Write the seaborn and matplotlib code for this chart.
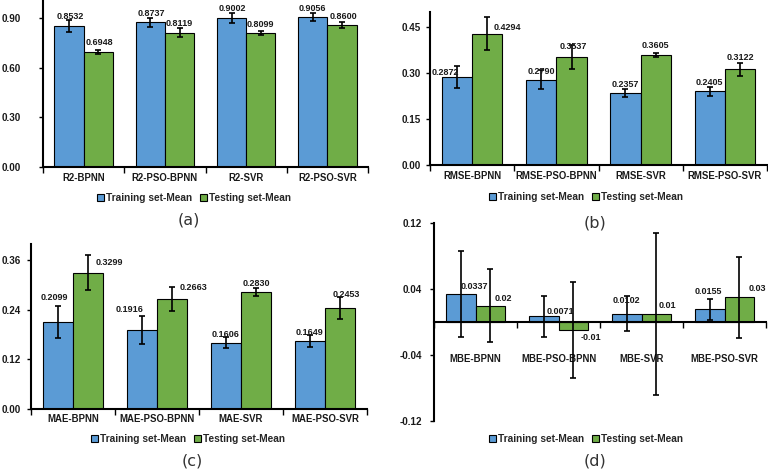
import numpy as np
import pandas as pd
import seaborn as sns
import matplotlib.pyplot as plt
from matplotlib.patches import Patch
from matplotlib.ticker import FormatStrFormatter

# values
sets = ["Training set-Mean", "Testing set-Mean"]
methods = ["BPNN", "PSO-BPNN", "SVR", "PSO-SVR"]

r2_train = [0.8532, 0.8737, 0.9002, 0.9056]
r2_test = [0.6948, 0.8119, 0.8099, 0.8600]
r2_train_err = [0.037, 0.027, 0.030, 0.022]
r2_test_err = [0.012, 0.028, 0.012, 0.018]

rmse_train = [0.2872, 0.2790, 0.2357, 0.2405]
rmse_test = [0.4294, 0.3537, 0.3605, 0.3122]
rmse_train_err = [0.037, 0.031, 0.012, 0.014]
rmse_test_err = [0.055, 0.039, 0.006, 0.020]

mae_train = [0.2099, 0.1916, 0.1606, 0.1649]
mae_test = [0.3299, 0.2663, 0.2830, 0.2453]
mae_train_err = [0.039, 0.034, 0.014, 0.015]
mae_test_err = [0.042, 0.030, 0.009, 0.027]

mbe_train = [0.0337, 0.0071, 0.0102, 0.0155]
mbe_test = [0.02, -0.01, 0.01, 0.03]
mbe_train_err = [0.052, 0.025, 0.021, 0.0125]
mbe_test_err = [0.044, 0.058, 0.098, 0.049]

colors = ["#5B9BD5", "#70AD47"]

sns.set_style("white")
plt.rcParams["font.family"] = ["Liberation Sans", "DejaVu Sans"]

W, H = 768, 471
fig = plt.figure(figsize=(W / 100, H / 100), dpi=100)


def px_rect(x0, x1, ytop, ybot):
    return [x0 / W, 1 - ybot / H, (x1 - x0) / W, (ybot - ytop) / H]


# label nudges in pixels (train bars then test bars), as in the original layout
panels = [
    dict(prefix="R2", train=r2_train, test=r2_test, etr=r2_train_err, ete=r2_test_err,
         rect=px_rect(43, 368, 1.4, 167), ylim=(0, 1.0), ticks=[0, 0.3, 0.6, 0.9],
         fmt="{:.4f}", ypad=13, xpad=4.5,
         dx=[1, 1, 1, 0, 1, 0, 0, 1], dy=[9, 9, 9, 9, 9, 9, 8, 8],
         leg=(194, 198), tag="(a)", tagpos=(189, 220)),
    dict(prefix="RMSE", train=rmse_train, test=rmse_test, etr=rmse_train_err, ete=rmse_test_err,
         rect=px_rect(430, 767, 12, 165), ylim=(0, 0.5), ticks=[0, 0.15, 0.30, 0.45],
         fmt="{:.4f}", ypad=3.6, xpad=4.5,
         dx=[-12, 0, 0, 0, 20, 2, 0, 0], dy=[5, 8, 8, 9, 6, 10, 9, 12],
         leg=(586, 197), tag="(b)", tagpos=(595, 223)),
    dict(prefix="MAE", train=mae_train, test=mae_test, etr=mae_train_err, ete=mae_test_err,
         rect=px_rect(31, 367, 243.9, 408.7), ylim=(0, 0.4), ticks=[0, 0.12, 0.24, 0.36],
         fmt="{:.4f}", ypad=4.3, xpad=4.0,
         dx=[-4, -12, 0, 0, 21, 21, 0, 6], dy=[25, 20, 8, 8, 10, 11, 9, 13],
         leg=(188, 439), tag="(c)", tagpos=(192, 461)),
    dict(prefix="MBE", train=mbe_train, test=mbe_test, etr=mbe_train_err, ete=mbe_test_err,
         rect=px_rect(434, 766, 223, 421), ylim=(-0.12, 0.12), ticks=[-0.12, -0.04, 0.04, 0.12],
         fmt="{:g}", ypad=5.8, xpad=23,
         dx=[14, 17, 0, -1, 13, 17, 11, 18], dy=[8, 5, 13, 18, 7, -7, 8, 9],
         leg=(586, 439), tag="(d)", tagpos=(595, 461)),
]

for p in panels:
    ax = fig.add_axes(p["rect"])
    cats = [f"{p['prefix']}-{m}" for m in methods]
    df = pd.DataFrame({
        "model": cats * 2,
        "set": [sets[0]] * 4 + [sets[1]] * 4,
        "value": p["train"] + p["test"],
    })
    sns.barplot(data=df, x="model", y="value", hue="set", hue_order=sets, order=cats,
                palette=colors, saturation=1, width=0.72, edgecolor="black",
                linewidth=0.8, errorbar=None, legend=False, ax=ax, zorder=2)

    vals = [p["train"], p["test"]]
    errs = [p["etr"], p["ete"]]
    bar_groups = list(ax.containers)
    k = 0
    for i, cont in enumerate(bar_groups):
        xs = [b.get_x() + b.get_width() / 2 for b in cont]
        ax.errorbar(xs, vals[i], yerr=errs[i], fmt="none", ecolor="black",
                    elinewidth=1.2, capsize=2.3, capthick=1.2, zorder=3)
        for x, v in zip(xs, vals[i]):
            ax.annotate(p["fmt"].format(v), (x, v), xytext=(p["dx"][k], p["dy"][k]),
                        textcoords="offset pixels", ha="center", va="center",
                        fontsize=6.5, fontweight="bold", color="#1a1a1a", zorder=4)
            k += 1

    for s in ["top", "right"]:
        ax.spines[s].set_visible(False)
    for s in ["left", "bottom"]:
        ax.spines[s].set_color("black")
        ax.spines[s].set_linewidth(1.5)
    if p["ylim"][0] < 0:
        ax.spines["bottom"].set_position(("data", 0))

    ax.set_xlim(-0.5, 3.5)
    ax.set_ylim(*p["ylim"])
    ax.set_yticks(p["ticks"])
    ax.yaxis.set_major_formatter(FormatStrFormatter("%.2f"))
    ax.set_xlabel("")
    ax.set_ylabel("")
    ax.set_xticks(range(4))
    ax.set_xticklabels(cats)
    ax.set_xticks([-0.5, 0.5, 1.5, 2.5, 3.5], minor=True)
    ax.tick_params(axis="x", which="major", length=0, pad=p["xpad"],
                   labelsize=6.9)
    ax.tick_params(axis="x", which="minor", length=4, width=1, direction="out",
                   bottom=True, color="black")
    ax.tick_params(axis="y", length=3, width=1, direction="out", left=True,
                   pad=p["ypad"], labelsize=7.1, color="black")
    for lab in ax.get_xticklabels() + ax.get_yticklabels():
        lab.set_fontweight("bold")
        lab.set_color("#1a1a1a")
    ax.patch.set_alpha(0)

    handles = [Patch(facecolor=c, edgecolor="black", linewidth=0.8, label=s)
               for c, s in zip(colors, sets)]
    lx, ly = p["leg"]
    fig.legend(handles=handles, loc="center", bbox_to_anchor=(lx / W, 1 - ly / H),
               ncol=2, frameon=False, handlelength=0.7, handleheight=0.7,
               handletextpad=0.2, columnspacing=0.8,
               prop={"weight": "bold", "size": 7.3})

    tx, ty = p["tagpos"]
    fig.text(tx / W, 1 - ty / H, p["tag"], ha="center", va="center",
             fontsize=11.5, family="DejaVu Sans", color="#333333")

fig.savefig("out.png", dpi=100)
